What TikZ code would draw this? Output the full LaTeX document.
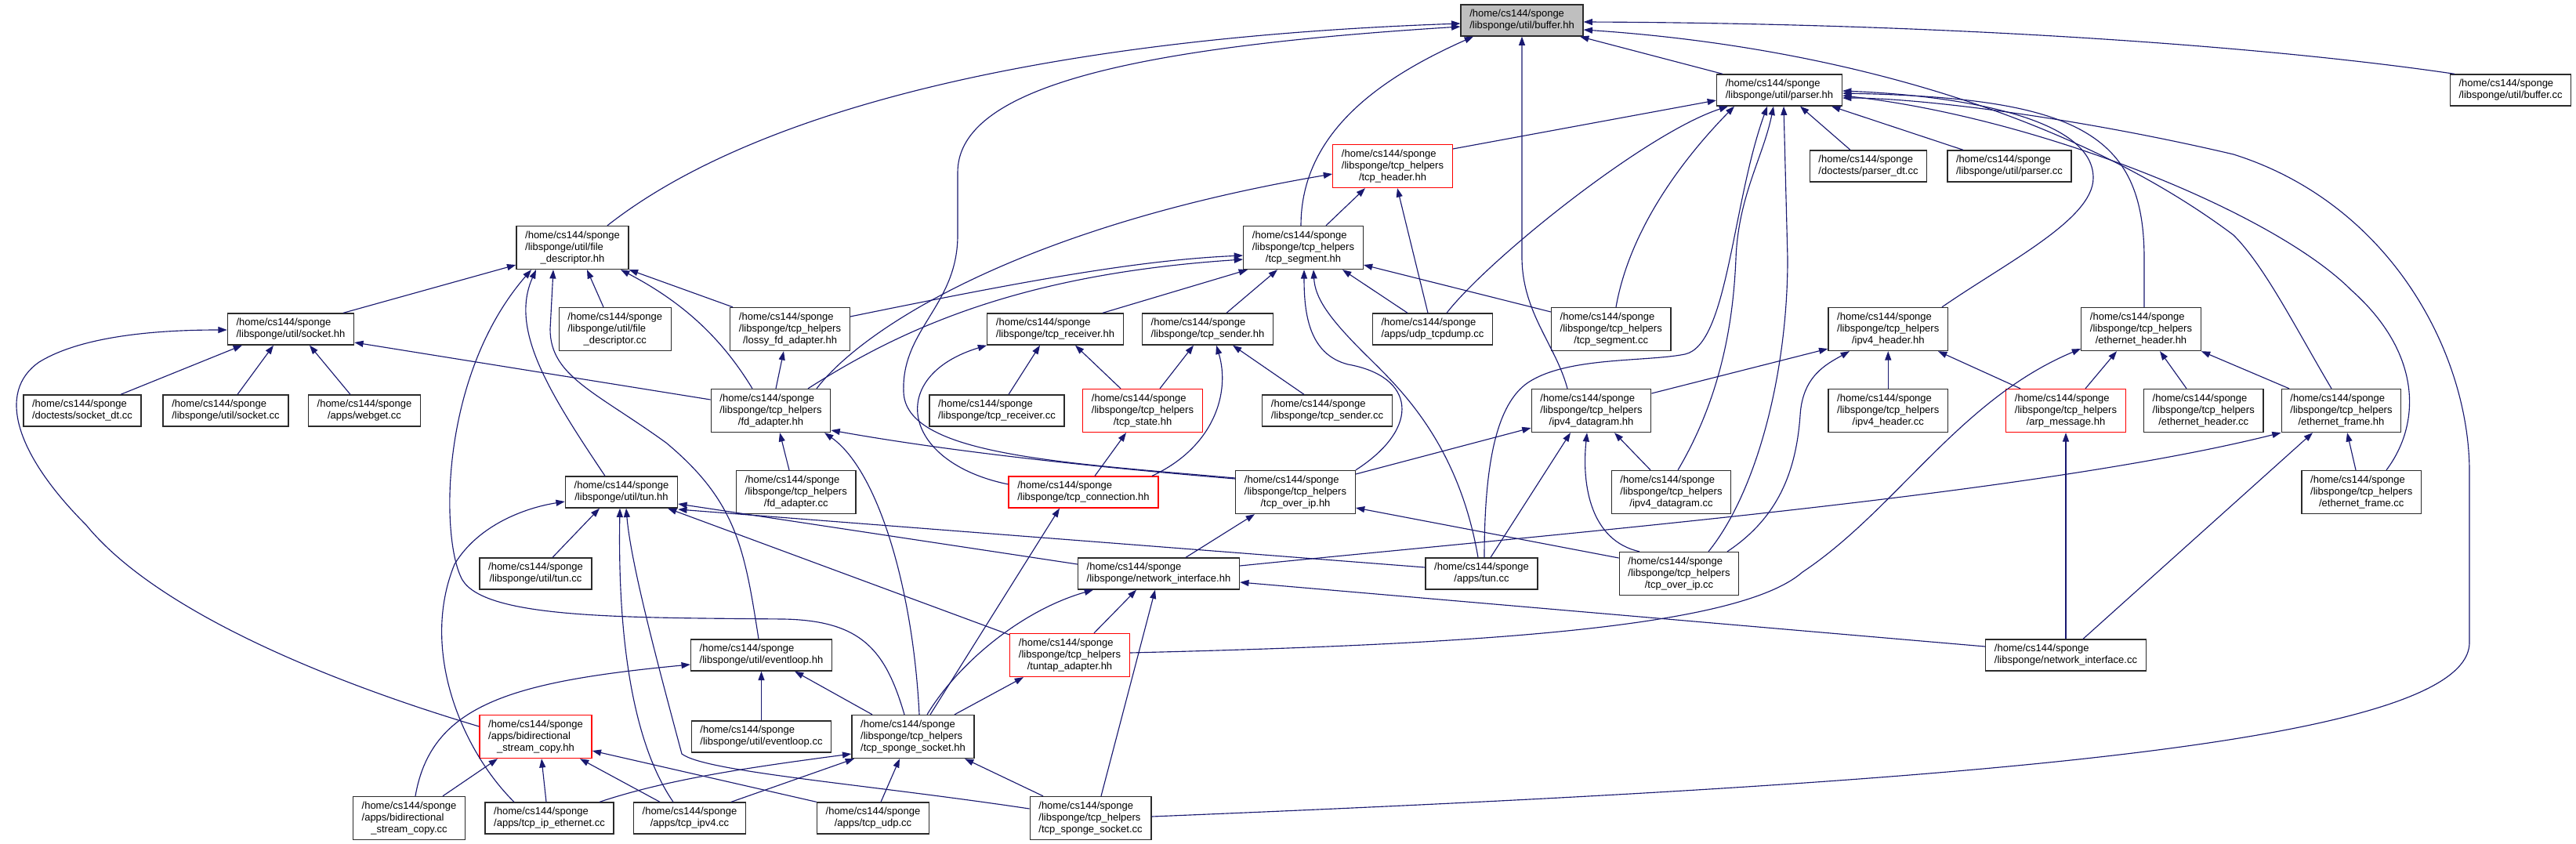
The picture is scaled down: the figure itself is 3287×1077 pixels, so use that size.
\documentclass[tikz,border=0pt]{standalone}
\usepackage{fontspec}
\setmainfont{Liberation Sans}
\usepackage{tikz}
\usetikzlibrary{arrows.meta, positioning, calc}
\definecolor{EdgeBlue}{HTML}{191970}
\definecolor{RootGray}{HTML}{BFBFBF}
\definecolor{BoxBorder}{HTML}{2B2B2B}
\definecolor{CutRed}{HTML}{FF0000}
\newcommand{\lbltwo}[1]{\begin{tabular}{@{}l@{}}/home/cs144/sponge\\\multicolumn{1}{@{}c@{}}{#1}\end{tabular}}
\newcommand{\lblthree}[2]{\begin{tabular}{@{}l@{}}/home/cs144/sponge\\#1\\\multicolumn{1}{@{}c@{}}{#2}\end{tabular}}

\begin{document}
\begin{tikzpicture}[x=0.75pt, y=-0.75pt,
  file/.style={draw=BoxBorder, line width=1pt, fill=white, inner xsep=8.4pt, inner ysep=1pt,
    font=\fontsize{9.75}{11.25}\selectfont},
  two/.style={minimum height=30pt},
  three/.style={minimum height=41.25pt},
  cut/.style={draw=CutRed},
  root/.style={fill=RootGray},
  inc/.style={draw=EdgeBlue, line width=0.85pt, -{Triangle[length=8.5pt,width=6pt]}}]
  \path[use as bounding box, fill=white] (0,0) rectangle (3287,1077);
  % row 0 and 1
  \node[file,two,root] (bufferhh) at (1942,26) {\lbltwo{/libsponge/util/buffer.hh}};
  \node[file,two] (parserhh) at (2270.5,115) {\lbltwo{/libsponge/util/parser.hh}};
  \node[file,two] (buffercc) at (3203.5,115) {\lbltwo{/libsponge/util/buffer.cc}};
  % row 2
  \node[file,three,cut] (tcpheaderhh) at (1777,212) {\lblthree{/libsponge/tcp\_helpers}{/tcp\_header.hh}};
  \node[file,two] (parserdtcc) at (2384,212) {\lbltwo{/doctests/parser\_dt.cc}};
  \node[file,two] (parsercc) at (2564,212) {\lbltwo{/libsponge/util/parser.cc}};
  % row 3
  \node[file,three] (fdhh) at (730.5,316) {\lblthree{/libsponge/util/file}{\_descriptor.hh}};
  \node[file,three] (tcpsegmenthh) at (1663,316) {\lblthree{/libsponge/tcp\_helpers}{/tcp\_segment.hh}};
  % row 4
  \node[file,two] (sockethh) at (371,420) {\lbltwo{/libsponge/util/socket.hh}};
  \node[file,three] (fdcc) at (784.75,420) {\lblthree{/libsponge/util/file}{\_descriptor.cc}};
  \node[file,three] (lossyhh) at (1008,420) {\lblthree{/libsponge/tcp\_helpers}{/lossy\_fd\_adapter.hh}};
  \node[file,two] (tcpreceiverhh) at (1346.5,420) {\lbltwo{/libsponge/tcp\_receiver.hh}};
  \node[file,two] (tcpsenderhh) at (1541,420) {\lbltwo{/libsponge/tcp\_sender.hh}};
  \node[file,two] (udptcpdumpcc) at (1828,420) {\lbltwo{/apps/udp\_tcpdump.cc}};
  \node[file,three] (tcpsegmentcc) at (2055.75,420) {\lblthree{/libsponge/tcp\_helpers}{/tcp\_segment.cc}};
  \node[file,three] (ipheaderhh) at (2409.25,420) {\lblthree{/libsponge/tcp\_helpers}{/ipv4\_header.hh}};
  \node[file,three] (ethheaderhh) at (2732,420) {\lblthree{/libsponge/tcp\_helpers}{/ethernet\_header.hh}};
  % row 5
  \node[file,two] (socketdtcc) at (105,524) {\lbltwo{/doctests/socket\_dt.cc}};
  \node[file,two] (socketcc) at (288,524) {\lbltwo{/libsponge/util/socket.cc}};
  \node[file,two] (webgetcc) at (465,524) {\lbltwo{/apps/webget.cc}};
  \node[file,three] (fdadapterhh) at (983.5,524) {\lblthree{/libsponge/tcp\_helpers}{/fd\_adapter.hh}};
  \node[file,two] (tcpreceivercc) at (1272,524) {\lbltwo{/libsponge/tcp\_receiver.cc}};
  \node[file,three,cut] (tcpstatehh) at (1458,524) {\lblthree{/libsponge/tcp\_helpers}{/tcp\_state.hh}};
  \node[file,two] (tcpsendercc) at (1693.5,524) {\lbltwo{/libsponge/tcp\_sender.cc}};
  \node[file,three] (ipdatagramhh) at (2030.5,524) {\lblthree{/libsponge/tcp\_helpers}{/ipv4\_datagram.hh}};
  \node[file,three] (ipheadercc) at (2409.25,524) {\lblthree{/libsponge/tcp\_helpers}{/ipv4\_header.cc}};
  \node[file,three,cut] (arphh) at (2636,524) {\lblthree{/libsponge/tcp\_helpers}{/arp\_message.hh}};
  \node[file,three] (ethheadercc) at (2811.75,524) {\lblthree{/libsponge/tcp\_helpers}{/ethernet\_header.cc}};
  \node[file,three] (ethframehh) at (2987.5,524) {\lblthree{/libsponge/tcp\_helpers}{/ethernet\_frame.hh}};
  % row 6
  \node[file,two] (tunhh) at (793,628) {\lbltwo{/libsponge/util/tun.hh}};
  \node[file,three] (fdadaptercc) at (1015.75,628) {\lblthree{/libsponge/tcp\_helpers}{/fd\_adapter.cc}};
  \node[file,two,cut] (tcpconnectionhh) at (1382.5,628) {\lbltwo{/libsponge/tcp\_connection.hh}};
  \node[file,three] (tcpoveriphh) at (1653,628) {\lblthree{/libsponge/tcp\_helpers}{/tcp\_over\_ip.hh}};
  \node[file,three] (ipdatagramcc) at (2132.5,628) {\lblthree{/libsponge/tcp\_helpers}{/ipv4\_datagram.cc}};
  \node[file,three] (ethframecc) at (3013.25,628) {\lblthree{/libsponge/tcp\_helpers}{/ethernet\_frame.cc}};
  % row 7
  \node[file,two] (tuncc) at (683.5,732) {\lbltwo{/libsponge/util/tun.cc}};
  \node[file,two] (netifhh) at (1478.5,732) {\lbltwo{/libsponge/network\_interface.hh}};
  \node[file,two] (apptuncc) at (1890.5,732) {\lbltwo{/apps/tun.cc}};
  \node[file,three] (tcpoveripcc) at (2142.5,732) {\lblthree{/libsponge/tcp\_helpers}{/tcp\_over\_ip.cc}};
  % row 8
  \node[file,two] (eventloophh) at (971.5,836) {\lbltwo{/libsponge/util/eventloop.hh}};
  \node[file,three,cut] (tuntaphh) at (1365,836) {\lblthree{/libsponge/tcp\_helpers}{/tuntap\_adapter.hh}};
  \node[file,two] (netifcc) at (2636,836) {\lbltwo{/libsponge/network\_interface.cc}};
  % row 9
  \node[file,three,cut] (bidirhh) at (683.5,940) {\lblthree{/apps/bidirectional}{\_stream\_copy.hh}};
  \node[file,two] (eventloopcc) at (971.5,940) {\lbltwo{/libsponge/util/eventloop.cc}};
  \node[file,three] (spongesockhh) at (1165,940) {\lblthree{/libsponge/tcp\_helpers}{/tcp\_sponge\_socket.hh}};
  % row 10
  \node[file,three] (bidircc) at (522,1044) {\lblthree{/apps/bidirectional}{\_stream\_copy.cc}};
  \node[file,two] (tcpipethcc) at (701,1044) {\lbltwo{/apps/tcp\_ip\_ethernet.cc}};
  \node[file,two] (tcpipcc) at (880,1044) {\lbltwo{/apps/tcp\_ipv4.cc}};
  \node[file,two] (tcpudpcc) at (1114,1044) {\lbltwo{/apps/tcp\_udp.cc}};
  \node[file,three] (spongesockcc) at (1391.5,1044) {\lblthree{/libsponge/tcp\_helpers}{/tcp\_sponge\_socket.cc}};

  % into buffer.hh
  \draw[inc] (fdhh.north -| 775,0) .. controls (950,150) and (1300,50) .. (bufferhh.west |- 0,30);
  \draw[inc] (tcpoveriphh.west |- 0,610) .. controls (1350,590) and (1155,580) .. (1153,500) .. controls (1150,420) and (1222,390) .. (1222,300) -- (1222,220) .. controls (1222,110) and (1450,60) .. (bufferhh.west |- 0,34);
  \draw[inc] (tcpsegmenthh.north -| 1660,0) .. controls (1660,170) and (1760,100) .. (bufferhh.south -| 1880,0);
  \draw[inc] (ipdatagramhh.north -| 2000,0) .. controls (1985,440) and (1943,400) .. (1942,330) -- (bufferhh.south -| 1942,0);
  \draw[inc] (parserhh.north -| 2198,0) -- (bufferhh.south -| 2016,0);
  \draw[inc] (buffercc.north -| 3132,0) .. controls (2900,60) and (2500,30) .. (bufferhh.east |- 0,28);
  \draw[inc] (ethframehh.north -| 2975,0) .. controls (2930,420) and (2890,340) .. (2850,300) .. controls (2650,150) and (2350,60) .. (bufferhh.east |- 0,38);
  % into parser.hh
  \draw[inc] (tcpheaderhh.east |- 0,190) -- (parserhh.west |- 0,128);
  \draw[inc] (udptcpdumpcc.north -| 1846,0) .. controls (1900,330) and (2100,170) .. (parserhh.south -| 2205,0);
  \draw[inc] (tcpsegmentcc.north -| 2062,0) .. controls (2080,290) and (2150,200) .. (parserhh.south -| 2213,0);
  \draw[inc] (apptuncc.north -| 1894,0) .. controls (1894,590) and (1910,515) .. (1950,488) .. controls (2000,455) and (2100,462) .. (2150,452) .. controls (2205,440) and (2210,260) .. (parserhh.south -| 2255,0);
  \draw[inc] (ipdatagramcc.north -| 2141,0) .. controls (2200,500) and (2212,400) .. (2215,330) .. controls (2218,250) and (2250,200) .. (parserhh.south -| 2263,0);
  \draw[inc] (tcpoveripcc.north -| 2180,0) .. controls (2240,630) and (2281,480) .. (2281,330) -- (parserhh.south -| 2276,0);
  \draw[inc] (parserdtcc.north -| 2361,0) -- (parserhh.south -| 2297,0);
  \draw[inc] (parsercc.north -| 2505,0) -- (parserhh.south -| 2337,0);
  \draw[inc] (ipheaderhh.north -| 2478,0) .. controls (2560,335) and (2671,280) .. (2671,227) .. controls (2671,150) and (2500,122) .. (parserhh.east |- 0,116);
  \draw[inc] (ethheaderhh.north -| 2736,0) -- (2736,330) .. controls (2736,170) and (2650,125) .. (parserhh.east |- 0,119);
  \draw[inc] (ethframecc.north -| 3045,0) .. controls (3090,540) and (3090,450) .. (3000,370) .. controls (2900,270) and (2600,150) .. (parserhh.east |- 0,122);
  \draw[inc] (spongesockcc.east |- 0,1042) .. controls (2500,1000) and (3150,950) .. (3151,820) -- (3151,600) .. controls (3150,450) and (3050,260) .. (2850,197) .. controls (2650,150) and (2450,125) .. (parserhh.east |- 0,125);
  % into tcp_header.hh
  \draw[inc] (tcpsegmenthh.north -| 1692,0) -- (tcpheaderhh.south -| 1742,0);
  \draw[inc] (udptcpdumpcc.north -| 1822,0) -- (tcpheaderhh.south -| 1783,0);
  \draw[inc] (fdadapterhh.north -| 1042,0) .. controls (1100,420) and (1300,290) .. (tcpheaderhh.west |- 0,222);
  % into tcp_segment.hh
  \draw[inc] (lossyhh.east |- 0,404) .. controls (1300,360) and (1450,332) .. (tcpsegmenthh.west |- 0,326);
  \draw[inc] (fdadapterhh.north -| 1031,0) .. controls (1150,420) and (1300,350) .. (tcpsegmenthh.west |- 0,331);
  \draw[inc] (tcpreceiverhh.north -| 1407,0) -- (tcpsegmenthh.south -| 1592,0);
  \draw[inc] (tcpsenderhh.north -| 1565,0) -- (tcpsegmenthh.south -| 1630,0);
  \draw[inc] (tcpoveriphh.north east) .. controls (1815,545) and (1805,480) .. (1720,465) .. controls (1670,452) and (1664,400) .. (tcpsegmenthh.south -| 1664,0);
  \draw[inc] (apptuncc.north -| 1886,0) .. controls (1860,560) and (1780,490) .. (1740,450) .. controls (1695,405) and (1678,380) .. (tcpsegmenthh.south -| 1676,0);
  \draw[inc] (udptcpdumpcc.north -| 1796,0) -- (tcpsegmenthh.south -| 1713,0);
  \draw[inc] (tcpsegmentcc.west |- 0,398) -- (tcpsegmenthh.east |- 0,338);
  % into file_descriptor.hh
  \draw[inc] (sockethh.north -| 438,0) -- (fdhh.west |- 0,338);
  \draw[inc] (tunhh.north -| 772,0) .. controls (700,500) and (650,420) .. (fdhh.south -| 684,0);
  \draw[inc] (spongesockhh.north -| 1154,0) .. controls (1130,830) and (1100,792) .. (1000,790) .. controls (800,788) and (620,790) .. (590,740) .. controls (562,690) and (560,480) .. (fdhh.south -| 678,0);
  \draw[inc] (eventloophh.north -| 968,0) .. controls (950,700) and (940,640) .. (850,565) .. controls (760,500) and (702,480) .. (702,420) -- (fdhh.south -| 706,0);
  \draw[inc] (fdcc.north -| 770,0) -- (fdhh.south -| 749,0);
  \draw[inc] (fdadapterhh.north -| 960,0) .. controls (920,430) and (870,385) .. (fdhh.south -| 792,0);
  \draw[inc] (lossyhh.north -| 935,0) -- (fdhh.south east);
  % into socket.hh
  \draw[inc] (socketdtcc.north -| 154,0) -- (sockethh.south -| 309,0);
  \draw[inc] (socketcc.north -| 303,0) -- (sockethh.south -| 349,0);
  \draw[inc] (webgetcc.north -| 447,0) -- (sockethh.south -| 395,0);
  \draw[inc] (fdadapterhh.west |- 0,510) -- (sockethh.east |- 0,437);
  \draw[inc] (bidirhh.west |- 0,927) .. controls (420,870) and (200,780) .. (110,670) .. controls (20,580) and (-5,500) .. (50,462) .. controls (110,425) and (220,421) .. (sockethh.west |- 0,421);
  % into eventloop.hh
  \draw[inc] (eventloopcc) -- (eventloophh);
  \draw[inc] (bidircc.north -| 530,0) .. controls (550,900) and (650,870) .. (eventloophh.west |- 0,848);
  \draw[inc] (spongesockhh.north -| 1113,0) -- (eventloophh.south -| 1014,0);
  % into fd_adapter.hh and lossy_fd_adapter.hh
  \draw[inc] (fdadaptercc.north -| 1007,0) -- (fdadapterhh.south -| 995,0);
  \draw[inc] (tcpoveriphh.west |- 0,611) .. controls (1300,588) and (1150,565) .. (fdadapterhh.east |- 0,549);
  \draw[inc] (spongesockhh.north -| 1173,0) .. controls (1165,750) and (1120,600) .. (fdadapterhh.south -| 1052,0);
  \draw[inc] (fdadapterhh.north -| 990,0) -- (lossyhh.south -| 1000,0);
  % into tun.hh
  \draw[inc] (tuncc.north -| 705,0) -- (tunhh.south -| 765,0);
  \draw[inc] (tcpipcc.north -| 859,0) .. controls (795,930) and (789,760) .. (tunhh.south -| 791,0);
  \draw[inc] (spongesockcc.west |- 0,1032) .. controls (1100,1000) and (900,985) .. (870,962) .. controls (840,850) and (805,720) .. (tunhh.south -| 799,0);
  \draw[inc] (tcpipethcc.north -| 656,0) .. controls (590,958) and (535,830) .. (580,720) .. controls (610,670) and (670,648) .. (tunhh.west |- 0,640);
  \draw[inc] (netifhh.west |- 0,720) -- (tunhh.east |- 0,643);
  \draw[inc] (apptuncc.west |- 0,724) -- (tunhh.east |- 0,650);
  \draw[inc] (tuntaphh.west |- 0,810) -- (tunhh.south -| 852,0);
  % into tcp_receiver.hh, tcp_sender.hh, tcp_state.hh, tcp_connection.hh
  \draw[inc] (tcpreceivercc.north -| 1287,0) -- (tcpreceiverhh.south -| 1327,0);
  \draw[inc] (tcpstatehh.north -| 1430,0) -- (tcpreceiverhh.south -| 1372,0);
  \draw[inc] (tcpconnectionhh.west |- 0,618) .. controls (1150,590) and (1130,480) .. (tcpreceiverhh.south west);
  \draw[inc] (tcpstatehh.north -| 1480,0) -- (tcpsenderhh.south -| 1523,0);
  \draw[inc] (tcpconnectionhh.north -| 1470,0) .. controls (1550,570) and (1570,500) .. (tcpsenderhh.south -| 1552,0);
  \draw[inc] (tcpsendercc.north -| 1664,0) -- (tcpsenderhh.south -| 1573,0);
  \draw[inc] (tcpconnectionhh.north -| 1397,0) -- (tcpstatehh.south -| 1437,0);
  \draw[inc] (spongesockhh.north -| 1187,0) -- (tcpconnectionhh.south -| 1352,0);
  % into tcp_over_ip.hh and ipv4_datagram.hh
  \draw[inc] (netifhh.north -| 1513,0) -- (tcpoveriphh.south -| 1601,0);
  \draw[inc] (tcpoveripcc.west |- 0,712) -- (tcpoveriphh.east |- 0,648);
  \draw[inc] (tcpoveriphh.east |- 0,605) -- (ipdatagramhh.west |- 0,546);
  \draw[inc] (ipdatagramcc.north -| 2106,0) -- (ipdatagramhh.south -| 2060,0);
  \draw[inc] (tcpoveripcc.north -| 2092,0) .. controls (2030,690) and (2018,620) .. (ipdatagramhh.south -| 2025,0);
  \draw[inc] (apptuncc.north -| 1902,0) -- (ipdatagramhh.south -| 2004,0);
  % into ipv4_header.hh
  \draw[inc] (ipheadercc) -- (ipheaderhh);
  \draw[inc] (arphh.north -| 2578,0) -- (ipheaderhh.south -| 2473,0);
  \draw[inc] (ipdatagramhh.east |- 0,502) -- (ipheaderhh.west |- 0,445);
  \draw[inc] (tcpoveripcc.north -| 2204,0) .. controls (2270,660) and (2292,600) .. (2297,530) .. controls (2300,480) and (2330,465) .. (ipheaderhh.south -| 2360,0);
  % into ethernet_header.hh and arp_message.hh
  \draw[inc] (arphh.north -| 2661,0) -- (ethheaderhh.south -| 2701,0);
  \draw[inc] (ethheadercc.north -| 2790,0) -- (ethheaderhh.south -| 2756,0);
  \draw[inc] (ethframehh.north -| 2921,0) -- (ethheaderhh.south east);
  \draw[inc] (tuntaphh.east |- 0,833) .. controls (1900,822) and (2220,800) .. (2300,730) .. controls (2420,650) and (2500,510) .. (ethheaderhh.west |- 0,445);
  \draw[inc] (netifcc) -- (arphh);
  % into ethernet_frame.hh
  \draw[inc] (ethframecc.north -| 3006,0) -- (ethframehh.south -| 2995,0);
  \draw[inc] (netifhh.east |- 0,722) .. controls (2000,680) and (2600,630) .. (ethframehh.south west);
  \draw[inc] (netifcc.north -| 2658,0) -- (ethframehh.south -| 2951,0);
  % into network_interface.hh and tuntap_adapter.hh
  \draw[inc] (tuntaphh.north -| 1396,0) -- (netifhh.south -| 1450,0);
  \draw[inc] (spongesockhh.north -| 1183,0) .. controls (1220,850) and (1300,780) .. (netifhh.south -| 1395,0);
  \draw[inc] (spongesockcc.north -| 1405,0) -- (netifhh.south -| 1474,0);
  \draw[inc] (netifcc.west |- 0,825) -- (netifhh.east |- 0,743);
  \draw[inc] (spongesockhh.north -| 1218,0) -- (tuntaphh.south -| 1306,0);
  % into bidirectional_stream_copy.hh
  \draw[inc] (bidircc.north -| 565,0) -- (bidirhh.south -| 635,0);
  \draw[inc] (tcpipethcc.north -| 697,0) -- (bidirhh.south -| 691,0);
  \draw[inc] (tcpipcc.north -| 842,0) -- (bidirhh.south -| 740,0);
  \draw[inc] (tcpudpcc.north west) -- (bidirhh.east |- 0,958);
  % into tcp_sponge_socket.hh
  \draw[inc] (tcpipethcc.north -| 765,0) .. controls (850,995) and (950,980) .. (spongesockhh.west |- 0,962);
  \draw[inc] (tcpipcc.north -| 933,0) -- (spongesockhh.south -| 1090,0);
  \draw[inc] (tcpudpcc.north -| 1124,0) -- (spongesockhh.south -| 1148,0);
  \draw[inc] (spongesockcc.north -| 1331,0) -- (spongesockhh.south -| 1231,0);
\end{tikzpicture}
\end{document}
